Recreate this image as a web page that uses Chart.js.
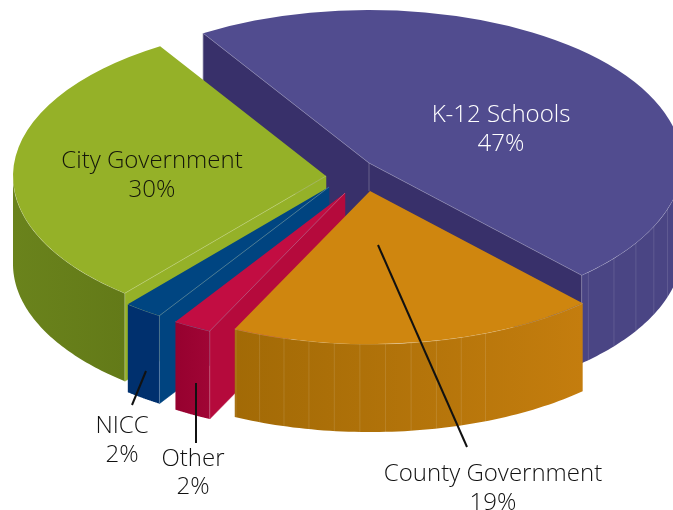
<!DOCTYPE html>
<html>
<head>
<meta charset="utf-8">
<style>
  html, body { margin: 0; padding: 0; background: #fff; overflow: hidden; }
  canvas { display: block; }
</style>
<script src="https://cdn.jsdelivr.net/npm/chart.js@4"></script>
</head>
<body>
<canvas id="pie" width="673" height="510"></canvas>
<script>
// Chart data
const categories = ["K-12 Schools", "County Government", "Other", "NICC", "City Government"];
const values = [47, 19, 2, 2, 30];

// Look of each slice, same order as categories
const topColors = ["#514c8f", "#cf860f", "#c20d42", "#004581", "#95b128"];
const cutColors = ["#38306a", "#b5760c", "#b50a3c", "#004480", "#95b128"];
const wallLeft = ["#4a4584", "#a26a06", "#96012f", "#00306e", "#6a831c"];
const wallRight = ["#4a4584", "#c47d0e", "#a00535", "#00306e", "#637a18"];
const ribStep = [7, 4.7, 0, 0, 0];
const ribSkip = [0, 4, 0, 0, 0];
const sliceShiftX = [19, 20, -5, -21, -24];
const sliceShiftY = [-13, 15, 17, 11, 0];
const drawOrder = [0, 4, 3, 2, 1];

const squash = 0.489;
const depth = 88;

function rimPoint(arc, angle, sx, sy) {
  return {
    x: arc.x + sx + arc.outerRadius * Math.cos(angle),
    y: arc.y + sy + arc.outerRadius * squash * Math.sin(angle),
  };
}

function drawCut(ctx, arc, angle, sx, sy, color) {
  const p = rimPoint(arc, angle, sx, sy);
  const ax = arc.x + sx;
  const ay = arc.y + sy;
  ctx.beginPath();
  ctx.moveTo(ax, ay);
  ctx.lineTo(p.x, p.y);
  ctx.lineTo(p.x, p.y + depth);
  ctx.lineTo(ax, ay + depth);
  ctx.closePath();
  ctx.fillStyle = color;
  ctx.fill();
  ctx.strokeStyle = color;
  ctx.lineWidth = 0.5;
  ctx.stroke();
}

function drawOuterWall(ctx, arc, i, sx, sy) {
  const start = arc.startAngle < 0 && arc.endAngle > 0 ? 0 : arc.startAngle;
  const end = arc.startAngle < Math.PI && arc.endAngle > Math.PI ? Math.PI : arc.endAngle;
  if (end <= start || start >= Math.PI) return;

  const a = rimPoint(arc, start, sx, sy);
  const b = rimPoint(arc, end, sx, sy);
  const grad = ctx.createLinearGradient(Math.min(a.x, b.x), 0, Math.max(a.x, b.x), 0);
  grad.addColorStop(0, wallLeft[i]);
  grad.addColorStop(1, wallRight[i]);

  ctx.beginPath();
  for (let t = 0; t <= 60; t++) {
    const p = rimPoint(arc, start + ((end - start) * t) / 60, sx, sy);
    if (t === 0) ctx.moveTo(p.x, p.y);
    else ctx.lineTo(p.x, p.y);
  }
  for (let t = 60; t >= 0; t--) {
    const p = rimPoint(arc, start + ((end - start) * t) / 60, sx, sy);
    ctx.lineTo(p.x, p.y + depth);
  }
  ctx.closePath();
  ctx.fillStyle = grad;
  ctx.fill();

  // thin vertical facets on the rim
  if (ribStep[i] > 0) {
    const step = (ribStep[i] * Math.PI) / 180;
    ctx.lineWidth = 0.8;
    ctx.strokeStyle = "rgba(255,255,255,0.15)";
    const first = start + (ribSkip[i] + 0.5) * step;
    for (let ang = first; ang < end; ang += step) {
      const p = rimPoint(arc, ang, sx, sy);
      ctx.beginPath();
      ctx.moveTo(p.x, p.y);
      ctx.lineTo(p.x, p.y + depth);
      ctx.stroke();
    }
  }

  // light line along the top edge
  ctx.beginPath();
  for (let t = 0; t <= 60; t++) {
    const p = rimPoint(arc, start + ((end - start) * t) / 60, sx, sy);
    if (t === 0) ctx.moveTo(p.x, p.y);
    else ctx.lineTo(p.x, p.y);
  }
  ctx.strokeStyle = "rgba(255,255,255,0.25)";
  ctx.lineWidth = 1;
  ctx.stroke();
}

function drawEdgeLine(ctx, arc, angle, sx, sy) {
  const p = rimPoint(arc, angle, sx, sy);
  ctx.beginPath();
  ctx.moveTo(arc.x + sx, arc.y + sy);
  ctx.lineTo(p.x, p.y);
  ctx.lineTo(p.x, p.y + depth);
  ctx.strokeStyle = "rgba(255,255,255,0.3)";
  ctx.lineWidth = 0.8;
  ctx.stroke();
}

const pie3d = {
  id: "pie3d",
  // the slices are drawn here, so the normal pass is skipped
  beforeDatasetDraw(chart) {
    const ctx = chart.ctx;
    const arcs = chart.getDatasetMeta(0).data;

    drawOrder.forEach(function (i) {
      const arc = arcs[i];
      const sx = sliceShiftX[i];
      const sy = sliceShiftY[i];

      if (Math.cos(arc.startAngle) < 0) drawCut(ctx, arc, arc.startAngle, sx, sy, cutColors[i]);
      if (Math.cos(arc.endAngle) > 0) drawCut(ctx, arc, arc.endAngle, sx, sy, cutColors[i]);
      drawOuterWall(ctx, arc, i, sx, sy);

      ctx.save();
      ctx.translate(arc.x + sx, arc.y + sy);
      ctx.scale(1, squash);
      ctx.translate(-arc.x, -arc.y);
      arc.draw(ctx);
      ctx.restore();

      if (Math.cos(arc.startAngle) < 0) drawEdgeLine(ctx, arc, arc.startAngle, sx, sy);
      if (Math.cos(arc.endAngle) > 0) drawEdgeLine(ctx, arc, arc.endAngle, sx, sy);
    });

    // fold between the two cut faces of the big slice
    ctx.beginPath();
    ctx.moveTo(arcs[0].x + sliceShiftX[0], arcs[0].y + sliceShiftY[0]);
    ctx.lineTo(arcs[0].x + sliceShiftX[0], arcs[0].y + sliceShiftY[0] + 28);
    ctx.strokeStyle = "rgba(255,255,255,0.3)";
    ctx.lineWidth = 0.8;
    ctx.stroke();
    return false;
  },
  afterDraw(chart) {
    const ctx = chart.ctx;

    // leader lines
    ctx.strokeStyle = "#111";
    ctx.lineWidth = 2;
    [[146, 371, 132, 405], [196, 383, 196, 443], [378, 245, 467, 447]].forEach(function (l) {
      ctx.beginPath();
      ctx.moveTo(l[0], l[1]);
      ctx.lineTo(l[2], l[3]);
      ctx.stroke();
    });

    // labels
    const labelX = [501, 493, 193, 122, 152];
    const labelY = [122, 481, 466, 433, 168];
    const lineGap = [29, 29, 28, 29, 29];
    const labelColor = ["#ffffff", "#111111", "#111111", "#111111", "#14160a"];
    ctx.textAlign = "center";
    ctx.textBaseline = "alphabetic";
    ctx.font = '300 24px "Open Sans", sans-serif';
    categories.forEach(function (name, i) {
      ctx.fillStyle = labelColor[i];
      ctx.fillText(name, labelX[i], labelY[i]);
      ctx.fillText(values[i] + "%", labelX[i], labelY[i] + lineGap[i]);
    });
  },
};

new Chart(document.getElementById("pie"), {
  type: "pie",
  data: {
    labels: categories,
    datasets: [
      {
        data: values,
        backgroundColor: topColors,
        borderWidth: 0,
      },
    ],
  },
  options: {
    responsive: false,
    animation: false,
    events: [],
    rotation: -32,
    radius: 313,
    layout: { padding: { left: 27, right: 0, top: 0, bottom: 158 } },
    plugins: {
      legend: { display: false },
      tooltip: { enabled: false },
    },
  },
  plugins: [pie3d],
});
</script>
</body>
</html>
